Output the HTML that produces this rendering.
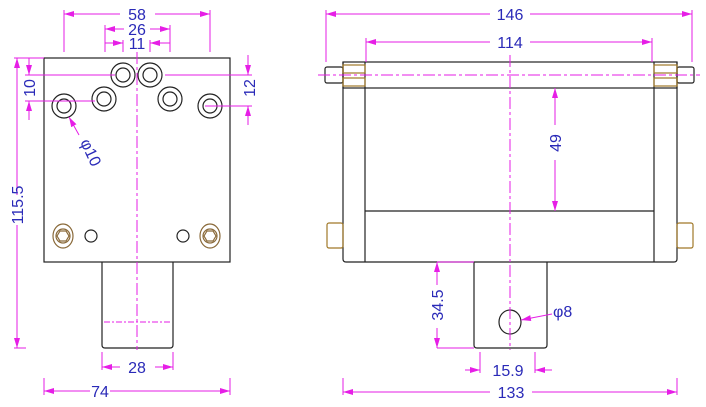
<!DOCTYPE html>
<html><head><style>body{margin:0;background:#fff}svg{display:block}text{font-family:"Liberation Sans",sans-serif;fill:#2a2ab8;font-size:16px}</style></head><body>
<svg width="706" height="407" viewBox="0 0 706 407" xmlns="http://www.w3.org/2000/svg">
<defs>
<marker id="a" viewBox="0 0 10 6" refX="10" refY="3" markerWidth="10" markerHeight="6" orient="auto-start-reverse" markerUnits="userSpaceOnUse"><path d="M0,0L10,3L0,6z" fill="#e61ee6"/></marker>
</defs>
<g stroke="#222" stroke-width="1.2" fill="none">
<rect x="44" y="58" width="186" height="204"/>
<path d="M102,262V345q0,3 3,3H170q3,0 3-3V262"/>
<circle cx="123" cy="75" r="12"/><circle cx="123" cy="75" r="7"/>
<circle cx="150" cy="75" r="12"/><circle cx="150" cy="75" r="7"/>
<circle cx="64" cy="106" r="12"/><circle cx="64" cy="106" r="7"/>
<circle cx="104" cy="99" r="12"/><circle cx="104" cy="99" r="7"/>
<circle cx="170" cy="99" r="12"/><circle cx="170" cy="99" r="7"/>
<circle cx="210" cy="106" r="12"/><circle cx="210" cy="106" r="7"/>
<circle cx="91" cy="236" r="6"/><circle cx="183" cy="236" r="6"/>
<g stroke="#8a6a3a"><ellipse cx="63" cy="236" rx="10" ry="12"/><circle cx="63" cy="236" r="7"/><path d="M57,236l3-5h6l3,5l-3,5h-6z"/>
<ellipse cx="210" cy="236" rx="10" ry="12"/><circle cx="210" cy="236" r="7"/><path d="M204,236l3-5h6l3,5l-3,5h-6z"/></g>
<path d="M343,62V259q0,3 3,3H674q3,0 3-3V62"/>
<rect x="343" y="62" width="334" height="26"/>
<line x1="365" y1="62" x2="365" y2="262"/><line x1="654" y1="62" x2="654" y2="262"/>
<line x1="365" y1="211" x2="654" y2="211"/>
<path d="M474,262V345q0,3 3,3H544q3,0 3-3V262"/>
<ellipse cx="510" cy="322" rx="11" ry="12"/>
<rect x="325" y="67" width="18" height="16" rx="2"/><rect x="677" y="67" width="17" height="16" rx="2"/>
<g stroke="#a07828"><rect x="343" y="65" width="22" height="8"/><rect x="343" y="78" width="22" height="8"/>
<rect x="654" y="65" width="23" height="8"/><rect x="654" y="78" width="23" height="8"/>
<rect x="327" y="223" width="16" height="25" rx="2"/><rect x="677" y="223" width="16" height="25" rx="2"/></g>
</g>
<g stroke="#e61ee6" stroke-width="1" fill="none">
<line x1="137" y1="52" x2="137" y2="350" stroke-dasharray="12,3,3,3"/>
<line x1="104" y1="322" x2="171" y2="322" stroke-dasharray="6,2,2,2"/>
<line x1="510" y1="55" x2="510" y2="350" stroke-dasharray="12,3,3,3"/>
<line x1="318" y1="75" x2="700" y2="75" stroke-dasharray="12,3,3,3"/>
<path d="M64,10V52M210,10V52M105,25V52M170,25V52M123,40V52M150,40V52"/>
<line x1="64" y1="14" x2="120" y2="14" marker-start="url(#a)"/><line x1="155" y1="14" x2="210" y2="14" marker-end="url(#a)"/>
<line x1="105" y1="29" x2="124" y2="29" marker-start="url(#a)"/><line x1="150" y1="29" x2="170" y2="29" marker-end="url(#a)"/>
<line x1="105" y1="43" x2="123" y2="43" marker-end="url(#a)"/><line x1="170" y1="43" x2="150" y2="43" marker-end="url(#a)"/>
<path d="M25,75H115M25,101H95M165,75H252M205,106H252M14,58H44M14,348H26"/>
<line x1="29" y1="58" x2="29" y2="75" marker-end="url(#a)"/><line x1="29" y1="120" x2="29" y2="101" marker-end="url(#a)"/>
<line x1="248" y1="55" x2="248" y2="75" marker-end="url(#a)"/><line x1="248" y1="125" x2="248" y2="106" marker-end="url(#a)"/>
<line x1="17" y1="195" x2="17" y2="58" marker-end="url(#a)"/><line x1="17" y1="225" x2="17" y2="348" marker-end="url(#a)"/>
<line x1="79" y1="135" x2="69" y2="117" marker-end="url(#a)"/>
<path d="M102,352V370M173,352V370M44,378V395M230,378V395"/>
<line x1="120" y1="367" x2="102" y2="367" marker-end="url(#a)"/><line x1="155" y1="367" x2="173" y2="367" marker-end="url(#a)"/>
<line x1="90" y1="391" x2="44" y2="391" marker-end="url(#a)"/><line x1="110" y1="391" x2="230" y2="391" marker-end="url(#a)"/>
<path d="M326,10V62M692,10V62M366,38V62M652,38V62"/>
<line x1="490" y1="14" x2="326" y2="14" marker-end="url(#a)"/><line x1="530" y1="14" x2="692" y2="14" marker-end="url(#a)"/>
<line x1="490" y1="42" x2="366" y2="42" marker-end="url(#a)"/><line x1="530" y1="42" x2="652" y2="42" marker-end="url(#a)"/>
<line x1="555" y1="125" x2="555" y2="88" marker-end="url(#a)"/><line x1="555" y1="160" x2="555" y2="211" marker-end="url(#a)"/>
<path d="M437,262H474M437,348H474M343,378V395M677,378V395M480,352V373M535,352V373"/>
<line x1="437" y1="285" x2="437" y2="262" marker-end="url(#a)"/><line x1="437" y1="328" x2="437" y2="348" marker-end="url(#a)"/>
<line x1="465" y1="370" x2="480" y2="370" marker-end="url(#a)"/><line x1="552" y1="370" x2="535" y2="370" marker-end="url(#a)"/>
<line x1="490" y1="392" x2="343" y2="392" marker-end="url(#a)"/><line x1="532" y1="392" x2="677" y2="392" marker-end="url(#a)"/>
<line x1="552" y1="314" x2="521" y2="320" marker-end="url(#a)"/>
</g>
<text x="137" y="20" text-anchor="middle">58</text>
<text x="137" y="35" text-anchor="middle">26</text>
<text x="137" y="49" text-anchor="middle">11</text>
<text transform="translate(35,88) rotate(-90)" text-anchor="middle">10</text>
<text transform="translate(255,88) rotate(-90)" text-anchor="middle">12</text>
<text transform="translate(23,205) rotate(-90)" text-anchor="middle">115.5</text>
<text transform="translate(80,142) rotate(65)">φ10</text>
<text x="137" y="373" text-anchor="middle">28</text>
<text x="100" y="397" text-anchor="middle">74</text>
<text x="510" y="20" text-anchor="middle">146</text>
<text x="510" y="48" text-anchor="middle">114</text>
<text transform="translate(561,143) rotate(-90)" text-anchor="middle">49</text>
<text transform="translate(443,305) rotate(-90)" text-anchor="middle">34.5</text>
<text x="553" y="317">φ8</text>
<text x="508" y="376" text-anchor="middle">15.9</text>
<text x="511" y="398" text-anchor="middle">133</text>
</svg>
</body></html>
